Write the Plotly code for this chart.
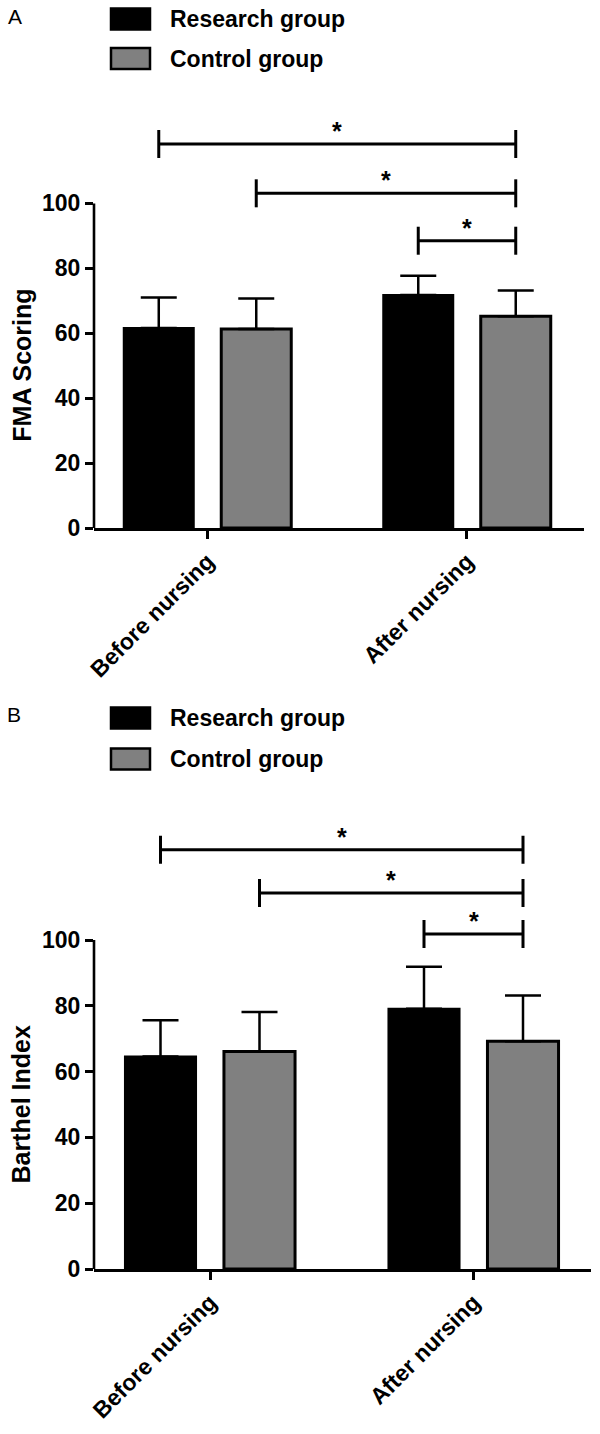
import plotly.graph_objects as go

# ---------------- data ----------------
categories = ["Before nursing", "After nursing"]
series_names = ["Research group", "Control group"]

fma_research_mean = [61.6, 71.8]
fma_research_sd = [9.4, 5.9]
fma_control_mean = [61.3, 65.2]
fma_control_sd = [9.4, 8.0]

barthel_research_mean = [64.6, 79.1]
barthel_research_sd = [11.0, 12.8]
barthel_control_mean = [66.1, 69.2]
barthel_control_sd = [12.0, 13.9]

y_ticks = [0, 20, 40, 60, 80, 100]

# significance brackets: (from group idx, from series idx, to group idx, to series idx, level)
fma_sig = [(0, 0, 1, 1, 118.3), (0, 1, 1, 1, 103.1), (1, 0, 1, 1, 88.5)]
barthel_sig = [(0, 0, 1, 1, 127.4), (0, 1, 1, 1, 114.3), (1, 0, 1, 1, 101.8)]

# ---------------- style ----------------
W, H = 600, 1434
FONT = "Arial, Liberation Sans, sans-serif"
BLACK = "#000000"
GREY = "#808080"
LW = 2.6
BARGAP = 0.2486
GROUPGAP = 0.282
SLOT_OFF = (1 - BARGAP) / 4  # bar centre offset within group


def px_x(p):
    return p / W


def px_y(p):
    return 1 - p / H


panels = [
    dict(name="A", xdom=[px_x(94), px_x(584)], ydom=[px_y(528), px_y(106)],
         yrange=[0, 130], xrange=[-0.4374, 1.4509],
         rm=fma_research_mean, rs=fma_research_sd, cm=fma_control_mean, cs=fma_control_sd,
         sig=fma_sig, title="FMA Scoring", title_x=22,
         label_xy=(15, 17), leg_y=[19, 58.5]),
    dict(name="B", xdom=[px_x(94), px_x(591)], ydom=[px_y(1269), px_y(808.4)],
         yrange=[0, 140], xrange=[-0.4402, 1.4459],
         rm=barthel_research_mean, rs=barthel_research_sd, cm=barthel_control_mean, cs=barthel_control_sd,
         sig=barthel_sig, title="Barthel Index", title_x=20,
         label_xy=(14, 715), leg_y=[718, 759]),
]

fig = go.Figure()
shapes = []
annotations = []

for i, p in enumerate(panels):
    xa = "x" if i == 0 else f"x{i+1}"
    ya = "y" if i == 0 else f"y{i+1}"
    xkey = "xaxis" if i == 0 else f"xaxis{i+1}"
    ykey = "yaxis" if i == 0 else f"yaxis{i+1}"

    fig.add_trace(go.Bar(
        x=categories, y=p["rm"], name=series_names[0], xaxis=xa, yaxis=ya,
        marker=dict(color=BLACK, line=dict(color=BLACK, width=2)),
        error_y=dict(type="data", symmetric=False, array=p["rs"], arrayminus=[0] * len(p["rs"]),
                     color=BLACK, thickness=2.5, width=18),
        showlegend=False,
    ))
    fig.add_trace(go.Bar(
        x=categories, y=p["cm"], name=series_names[1], xaxis=xa, yaxis=ya,
        marker=dict(color=GREY, line=dict(color=BLACK, width=3)),
        error_y=dict(type="data", symmetric=False, array=p["cs"], arrayminus=[0] * len(p["cs"]),
                     color=BLACK, thickness=2.5, width=18),
        showlegend=False,
    ))

    fig.update_layout(**{
        xkey: dict(domain=p["xdom"], anchor=ya, type="category", categoryorder="array",
                   categoryarray=categories, range=p["xrange"], automargin=False,
                   showline=True, linecolor=BLACK, linewidth=LW, ticks="outside",
                   ticklen=8, tickwidth=LW, tickcolor=BLACK, tickangle=-45,
                   tickfont=dict(family=FONT, size=23, color=BLACK, weight="bold"),
                   showgrid=False, zeroline=False, fixedrange=True),
        ykey: dict(domain=p["ydom"], anchor=xa, range=p["yrange"], tickvals=y_ticks,
                   automargin=False,
                   showline=False, ticks="outside", ticklen=8, tickwidth=LW, tickcolor=BLACK,
                   tickfont=dict(family=FONT, size=23, color=BLACK, weight="bold"),
                   showgrid=False, zeroline=False, fixedrange=True),
    })

    # y axis line only from 0 to 100
    shapes.append(dict(type="line", xref=f"{xa} domain", yref=ya, x0=0, x1=0,
                       y0=y_ticks[0], y1=y_ticks[-1], line=dict(color=BLACK, width=LW)))

    # significance brackets
    for (g0, s0, g1, s1, lvl) in p["sig"]:
        xa0 = g0 + (-SLOT_OFF if s0 == 0 else SLOT_OFF)
        xa1 = g1 + (-SLOT_OFF if s1 == 0 else SLOT_OFF)
        tick = 14 / ((p["ydom"][1] - p["ydom"][0]) * H) * (p["yrange"][1] - p["yrange"][0])
        shapes.append(dict(type="line", xref=xa, yref=ya, x0=xa0, x1=xa1, y0=lvl, y1=lvl,
                           line=dict(color=BLACK, width=3)))
        for xx in (xa0, xa1):
            shapes.append(dict(type="line", xref=xa, yref=ya, x0=xx, x1=xx,
                               y0=lvl - tick, y1=lvl + tick, line=dict(color=BLACK, width=3)))
        annotations.append(dict(x=(xa0 + xa1) / 2, y=lvl, xref=xa, yref=ya, text="*",
                                showarrow=False, xanchor="center", yanchor="bottom", yshift=-3,
                                font=dict(family=FONT, size=25, color=BLACK, weight="bold")))

    # axis title
    ymid_px = (1 - (p["ydom"][0] + (p["ydom"][1] - p["ydom"][0]) * (50 / p["yrange"][1]))) * H
    annotations.append(dict(x=px_x(p["title_x"]), y=px_y(ymid_px), xref="paper", yref="paper",
                            text=p["title"], textangle=-90, showarrow=False,
                            xanchor="center", yanchor="middle",
                            font=dict(family=FONT, size=25, color=BLACK, weight="bold")))

    # panel label
    annotations.append(dict(x=px_x(p["label_xy"][0]), y=px_y(p["label_xy"][1]), xref="paper",
                            yref="paper", text=p["name"], showarrow=False, xanchor="center",
                            yanchor="middle", font=dict(family=FONT, size=21, color=BLACK)))

    # manual legend
    for k, (nm, col) in enumerate(zip(series_names, [BLACK, GREY])):
        cy = p["leg_y"][k]
        shapes.append(dict(type="rect", xref="paper", yref="paper",
                           x0=px_x(111), x1=px_x(150), y0=px_y(cy + 10.5), y1=px_y(cy - 10.5),
                           fillcolor=col, line=dict(color=BLACK, width=2.5)))
        annotations.append(dict(x=px_x(168), y=px_y(cy), xref="paper", yref="paper", text=nm,
                                showarrow=False, xanchor="left", yanchor="middle",
                                font=dict(family=FONT, size=23, color=BLACK, weight="bold")))

fig.update_layout(
    width=W, height=H, margin=dict(l=0, r=0, t=0, b=0, autoexpand=False),
    paper_bgcolor="white", plot_bgcolor="white",
    barmode="group", bargap=BARGAP, bargroupgap=GROUPGAP,
    showlegend=False, shapes=shapes, annotations=annotations,
    font=dict(family=FONT, color=BLACK),
)

fig.write_html("out.html", config={"displayModeBar": False},
               post_script="document.body.style.margin='0px';document.body.style.overflow='hidden';")
